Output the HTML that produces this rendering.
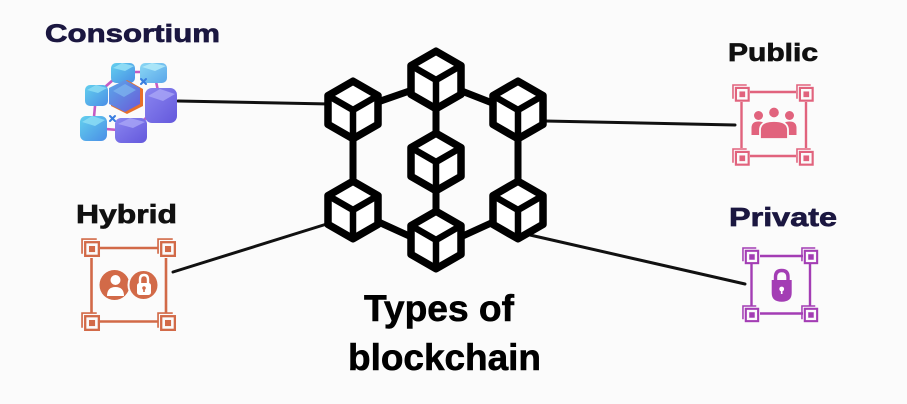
<!DOCTYPE html>
<html>
<head>
<meta charset="utf-8">
<style>
  html,body{margin:0;padding:0;background:#fbfbfb;}
  svg{display:block;}
  text{font-family:"Liberation Sans",sans-serif;font-weight:bold;}
</style>
</head>
<body>
<svg width="907" height="404" viewBox="0 0 907 404" xmlns="http://www.w3.org/2000/svg">
  <defs>
    <g id="cube">
      <path d="M0,-28.8 L25,-14.4 L25,14.4 L0,28.8 L-25,14.4 L-25,-14.4Z" fill="#fff" stroke="#000" stroke-width="7.5" stroke-linejoin="round"/>
      <path d="M-25,-14.4 L0,0 L25,-14.4 M0,0 L0,28.8" fill="none" stroke="#000" stroke-width="6.5" stroke-linejoin="round" stroke-linecap="round"/>
    </g>
    <g id="cb">
      <path d="M1,15 V1 H15" fill="none" stroke="currentColor" stroke-width="1.6"/>
      <rect x="4" y="4" width="13" height="13" fill="#fbfbfb" stroke="currentColor" stroke-width="2.2"/>
      <rect x="7.6" y="7.6" width="5.8" height="5.8" fill="currentColor"/>
    </g>
    <linearGradient id="gc1" x1="0" y1="0" x2="1" y2="1">
      <stop offset="0" stop-color="#63d0ee"/><stop offset="1" stop-color="#4a8ee6"/>
    </linearGradient>
    <linearGradient id="gc2" x1="0" y1="0" x2="1" y2="1">
      <stop offset="0" stop-color="#8bd8f4"/><stop offset="1" stop-color="#5aa6ea"/>
    </linearGradient>
    <linearGradient id="gp1" x1="0" y1="0" x2="1" y2="1">
      <stop offset="0" stop-color="#8a86f0"/><stop offset="1" stop-color="#6458dc"/>
    </linearGradient>
    <linearGradient id="gp2" x1="0" y1="0" x2="1" y2="1">
      <stop offset="0" stop-color="#5aa8ea"/><stop offset="1" stop-color="#6a5ad8"/>
    </linearGradient>
  </defs>

  <rect width="907" height="404" fill="#fbfbfb"/>

  <!-- external thin connectors -->
  <g stroke="#111" stroke-width="3" stroke-linecap="round">
    <line x1="178" y1="101" x2="330" y2="104"/>
    <line x1="545" y1="121" x2="735" y2="125"/>
    <line x1="173" y1="272" x2="330" y2="223"/>
    <line x1="530" y1="235" x2="745" y2="284"/>
  </g>

  <!-- center network connections -->
  <g stroke="#000" stroke-width="7" stroke-linecap="round">
    <line x1="372" y1="104" x2="418" y2="88"/>
    <line x1="454" y1="88" x2="500" y2="106"/>
    <line x1="436" y1="100" x2="436" y2="145"/>
    <line x1="353" y1="125" x2="353" y2="195"/>
    <line x1="518" y1="125" x2="518" y2="195"/>
    <line x1="436" y1="180" x2="436" y2="225"/>
    <line x1="372" y1="219" x2="418" y2="240"/>
    <line x1="500" y1="219" x2="454" y2="240"/>
  </g>

  <!-- cubes -->
  <use href="#cube" x="353" y="110"/>
  <use href="#cube" x="436" y="80"/>
  <use href="#cube" x="518" y="110"/>
  <use href="#cube" x="436" y="162"/>
  <use href="#cube" x="353" y="210"/>
  <use href="#cube" x="436" y="240"/>
  <use href="#cube" x="518" y="210"/>

  <!-- Labels -->
  <text x="45" y="42" font-size="25" fill="#1b1740" stroke="#1b1740" stroke-width="0.7" textLength="175" lengthAdjust="spacingAndGlyphs">Consortium</text>
  <text x="728" y="61" font-size="25" fill="#111" stroke="#111" stroke-width="0.7" textLength="90" lengthAdjust="spacingAndGlyphs">Public</text>
  <text x="76" y="223" font-size="26" fill="#111" stroke="#111" stroke-width="0.7" textLength="101" lengthAdjust="spacingAndGlyphs">Hybrid</text>
  <text x="729" y="226" font-size="26" fill="#1b1740" stroke="#1b1740" stroke-width="0.7" textLength="108" lengthAdjust="spacingAndGlyphs">Private</text>
  <text x="364" y="321" font-size="37" fill="#000" stroke="#000" stroke-width="0.6" textLength="150" lengthAdjust="spacingAndGlyphs">Types of</text>
  <text x="348" y="370" font-size="37" fill="#000" stroke="#000" stroke-width="0.6" textLength="193" lengthAdjust="spacingAndGlyphs">blockchain</text>

  <!-- Consortium icon -->
  <g>
    <g stroke="#c45cc4" stroke-width="2.6" fill="none">
      <line x1="122" y1="72" x2="154" y2="72"/>
      <line x1="122" y1="72" x2="96" y2="95"/>
      <line x1="96" y1="95" x2="93" y2="128"/>
      <line x1="93" y1="128" x2="131" y2="131"/>
      <line x1="131" y1="131" x2="161" y2="105"/>
      <line x1="161" y1="105" x2="154" y2="72"/>
    </g>
    <rect x="111" y="63" width="24" height="20" rx="5" fill="url(#gc1)"/>
    <path d="M113,68 L122,63 L134,66 L125,71Z" fill="#9ae3f7" opacity="0.8"/>
    <rect x="140" y="63" width="27" height="20" rx="5" fill="url(#gc2)"/>
    <path d="M142,67 L152,63 L166,66 L155,71Z" fill="#b5ecfa" opacity="0.8"/>
    <rect x="85" y="85" width="23" height="21" rx="5" fill="url(#gc1)"/>
    <path d="M87,90 L96,85 L107,88 L98,93Z" fill="#8fdff5" opacity="0.8"/>
    <path d="M127,80 L143,89 L143,106 L127,114 L111,106 L111,89Z" fill="#e8702a"/>
    <path d="M125,80 L140,88 L140,104 L125,112 L109,104 L109,88Z" fill="url(#gp2)"/>
    <path d="M113,91 L125,84 L136,90 L124,97Z" fill="#7fb8f0" opacity="0.7"/>
    <rect x="145" y="88" width="32" height="35" rx="7" fill="url(#gp1)"/>
    <path d="M148,96 L160,89 L175,94 L163,101Z" fill="#a9a6f6" opacity="0.8"/>
    <rect x="80" y="116" width="27" height="25" rx="6" fill="url(#gc1)"/>
    <path d="M82,122 L92,116 L105,120 L95,126Z" fill="#8fdff5" opacity="0.8"/>
    <rect x="115" y="118" width="32" height="25" rx="6" fill="url(#gp1)"/>
    <path d="M118,124 L130,118 L145,122 L133,128Z" fill="#a9a6f6" opacity="0.8"/>
    <g stroke="#3a7ee0" stroke-width="2" stroke-linecap="round">
      <line x1="141" y1="79" x2="146" y2="84"/><line x1="146" y1="79" x2="141" y2="84"/>
      <line x1="110" y1="116" x2="115" y2="121"/><line x1="115" y1="116" x2="110" y2="121"/>
    </g>
  </g>

  <!-- Hybrid icon -->
  <g style="color:#d26a48">
    <g stroke="#d26a48" stroke-width="2.6">
      <line x1="100" y1="248" x2="158" y2="248"/>
      <line x1="100" y1="321.5" x2="158" y2="321.5"/>
      <line x1="91.5" y1="258" x2="91.5" y2="313"/>
      <line x1="166" y1="258" x2="166" y2="313"/>
    </g>
    <use href="#cb" transform="translate(81,238) scale(1.05)"/>
    <use href="#cb" transform="translate(157,238) scale(1.05)"/>
    <use href="#cb" transform="translate(81,312) scale(1.05)"/>
    <use href="#cb" transform="translate(157,312) scale(1.05)"/>
    <circle cx="114.5" cy="285" r="15" fill="#d26a48"/>
    <circle cx="143.5" cy="285" r="15" fill="#d26a48" stroke="#fbfbfb" stroke-width="2"/>
    <circle cx="115.5" cy="280" r="5" fill="#fff"/>
    <path d="M107,296 Q107,287 115.5,287 Q124,287 124,296Z" fill="#fff"/>
    <path d="M140,284 V279.5 Q140,275 144,275 Q148,275 148,279.5 V284" fill="none" stroke="#fff" stroke-width="2.4"/>
    <rect x="137" y="283" width="14" height="12" rx="2.5" fill="#fff"/>
    <circle cx="144" cy="288" r="1.8" fill="#d26a48"/>
    <rect x="143.2" y="288" width="1.6" height="4" fill="#d26a48"/>
  </g>

  <!-- Public icon -->
  <g style="color:#e1637d">
    <g stroke="#e1637d" stroke-width="2.4">
      <line x1="750" y1="92" x2="796" y2="92"/>
      <line x1="750" y1="156" x2="796" y2="156"/>
      <line x1="741.5" y1="102" x2="741.5" y2="148"/>
      <line x1="806" y1="102" x2="806" y2="148"/>
    </g>
    <use href="#cb" transform="translate(732,84) scale(0.98)"/>
    <use href="#cb" transform="translate(796,84) scale(0.98)"/>
    <use href="#cb" transform="translate(732,148) scale(0.98)"/>
    <use href="#cb" transform="translate(796,148) scale(0.98)"/>
    <circle cx="758.5" cy="115.5" r="4.5" fill="#e1637d"/>
    <circle cx="789.5" cy="115.5" r="4.5" fill="#e1637d"/>
    <path d="M751.5,135 V128 Q751.5,121.5 758.5,121.5 Q765.5,121.5 765.5,128 V135Z" fill="#e1637d"/>
    <path d="M782.5,135 V128 Q782.5,121.5 789.5,121.5 Q796.5,121.5 796.5,128 V135Z" fill="#e1637d"/>
    <circle cx="774" cy="112.5" r="5.6" fill="#e1637d" stroke="#fbfbfb" stroke-width="1.5"/>
    <path d="M760,139 V130 Q760,121 774,121 Q788,121 788,130 V139Z" fill="#e1637d" stroke="#fbfbfb" stroke-width="1.8"/>
  </g>

  <!-- Private icon -->
  <g style="color:#a33db4">
    <g stroke="#a33db4" stroke-width="2.4">
      <line x1="760" y1="256" x2="803" y2="256"/>
      <line x1="760" y1="313.5" x2="803" y2="313.5"/>
      <line x1="751.5" y1="264" x2="751.5" y2="306"/>
      <line x1="810" y1="264" x2="810" y2="306"/>
    </g>
    <use href="#cb" transform="translate(742,247) scale(0.95)"/>
    <use href="#cb" transform="translate(801,247) scale(0.95)"/>
    <use href="#cb" transform="translate(742,305) scale(0.95)"/>
    <use href="#cb" transform="translate(801,305) scale(0.95)"/>
    <path d="M775.5,281 V277 Q775.5,270.5 781.7,270.5 Q788,270.5 788,277 V281" fill="none" stroke="#a33db4" stroke-width="3.4"/>
    <path d="M771.7,280 H791.7 V293 Q791.7,301.7 781.7,301.7 Q771.7,301.7 771.7,293Z" fill="#a33db4"/>
    <circle cx="781.7" cy="289" r="2.4" fill="#fff"/>
    <rect x="780.9" y="289" width="1.6" height="5" fill="#fff"/>
  </g>
</svg>
</body>
</html>
